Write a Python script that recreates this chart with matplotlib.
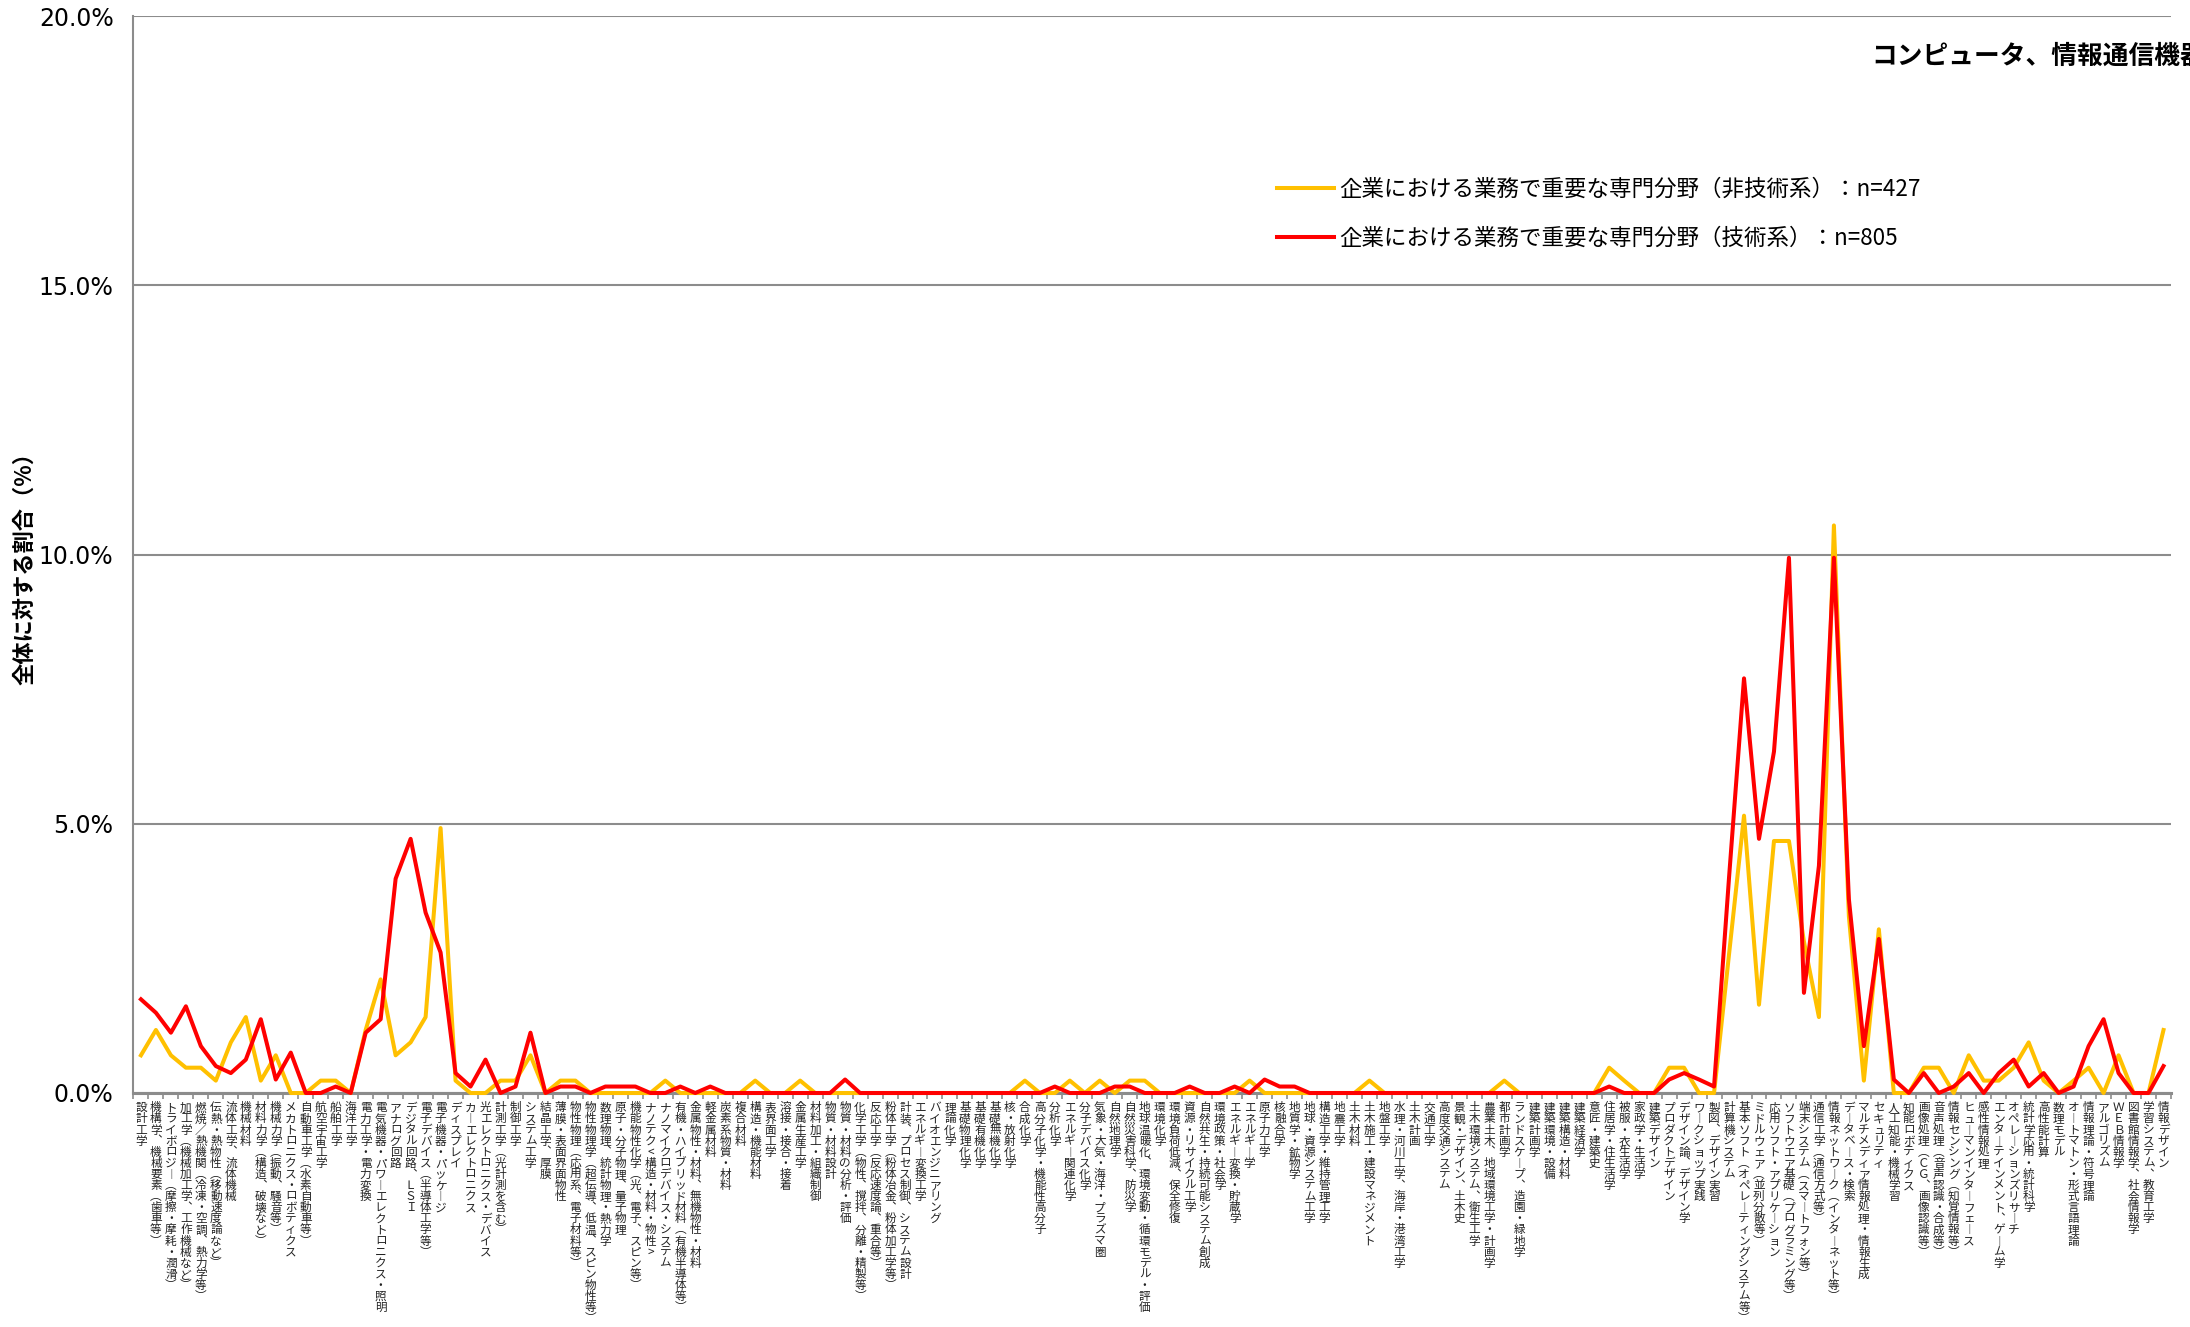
import numpy as np
import matplotlib
matplotlib.use('Agg')
import matplotlib.pyplot as plt

plt.rcParams['font.family'] = ['Noto Sans CJK JP', 'DejaVu Sans']

title = 'コンピュータ、情報通信機器'
series_names = ['企業における業務で重要な専門分野（非技術系）：n=427',
                '企業における業務で重要な専門分野（技術系）：n=805']

fields = [
    '設計工学', '機構学、機械要素（歯車等）', 'トライボロジー（摩擦・摩耗・潤滑）',
    '加工学（機械加工学、工作機械など）', '燃焼／熱機関（冷凍・空調、熱力学等）',
    '伝熱・熱物性（移動速度論など）', '流体工学、流体機械', '機械材料',
    '材料力学（構造、破壊など）', '機械力学（振動、騒音等）', 'メカトロニクス・ロボティクス',
    '自動車工学（水素自動車等）', '航空宇宙工学', '船舶工学', '海洋工学', '電力工学・電力変換',
    '電気機器・パワーエレクトロニクス・照明', 'アナログ回路', 'デジタル回路、ＬＳＩ',
    '電子デバイス（半導体工学等）', '電子機器・パッケージ', 'ディスプレイ', 'カーエレクトロニクス',
    '光エレクトロニクス・デバイス', '計測工学（光計測を含む）', '制御工学', 'システム工学',
    '結晶工学、厚膜', '薄膜・表面界面物性', '物性物理（応用系、電子材料等）',
    '物性物理学（超伝導、低温、スピン物性等）', '数理物理、統計物理・熱力学',
    '原子・分子物理、量子物理', '機能物性化学（光、電子、スピン等）', 'ナノテク<構造・材料・物性>',
    'ナノマイクロデバイス・システム', '有機・ハイブリッド材料（有機半導体等）',
    '金属物性・材料、無機物性・材料', '軽金属材料', '炭素系物質・材料', '複合材料',
    '構造・機能材料', '表界面工学', '溶接・接合・接着', '金属生産工学', '材料加工・組織制御',
    '物質・材料設計', '物質・材料の分析・評価', '化学工学（物性、撹拌、分離・精製等）',
    '反応工学（反応速度論、重合等）', '粉体工学（粉体冶金、粉体加工学等）',
    '計装、プロセス制御、システム設計', 'エネルギー変換工学', 'バイオエンジニアリング',
    '理論化学', '基礎物理化学', '基礎有機化学', '基礎無機化学', '核・放射化学', '合成化学',
    '高分子化学・機能性高分子', '分析化学', 'エネルギー関連化学', '分子デバイス化学',
    '気象・大気・海洋・プラズマ圏', '自然地理学', '自然災害科学、防災学',
    '地球温暖化、環境変動・循環モデル・評価', '環境化学', '環境負荷低減、保全修復',
    '資源・リサイクル工学', '自然共生・持続可能システム創成', '環境政策・社会学',
    'エネルギー変換・貯蔵学', 'エネルギー学', '原子力工学', '核融合学', '地質学・鉱物学',
    '地球・資源システム工学', '構造工学・維持管理工学', '地震工学', '土木材料',
    '土木施工・建設マネジメント', '地盤工学', '水理・河川工学、海岸・港湾工学', '土木計画',
    '交通工学', '高度交通システム', '景観・デザイン、土木史', '土木環境システム、衛生工学',
    '農業土木、地域環境工学・計画学', '都市計画学', 'ランドスケープ、造園・緑地学', '建築計画学',
    '建築環境・設備', '建築構造・材料', '建築経済学', '意匠・建築史', '住居学・住生活学',
    '被服・衣生活学', '家政学・生活学', '建築デザイン', 'プロダクトデザイン',
    'デザイン論、デザイン学', 'ワークショップ実践', '製図、デザイン実習', '計算機システム',
    '基本ソフト（オペレーティングシステム等）', 'ミドルウェア（並列分散等）',
    '応用ソフト・アプリケーション', 'ソフトウエア基礎（プログラミング等）',
    '端末システム（スマートフォン等）', '通信工学（通信方式等）',
    '情報ネットワーク（インターネット等）', 'データベース・検索',
    'マルチメディア情報処理・情報生成', 'セキュリティ', '人工知能・機械学習', '知能ロボティクス',
    '画像処理（ＣＧ、画像認識等）', '音声処理（音声認識・合成等）', '情報センシング（知覚情報等）',
    'ヒューマンインターフェース', '感性情報処理', 'エンターテインメント、ゲーム学',
    'オペレーションズリサーチ', '統計学応用・統計科学', '高性能計算', '数理モデル',
    'オートマトン・形式言語理論', '情報理論・符号理論', 'アルゴリズム', 'ＷＥＢ情報学',
    '図書館情報学、社会情報学', '学習システム、教育工学', '情報デザイン',
]

# 非技術系 (%)
non_tech = [
    0.70, 1.17, 0.70, 0.47, 0.47, 0.23, 0.94, 1.41, 0.23, 0.70,
    0.00, 0.00, 0.23, 0.23, 0.00, 1.17, 2.11, 0.70, 0.94, 1.41,
    4.92, 0.23, 0.00, 0.00, 0.23, 0.23, 0.70, 0.00, 0.23, 0.23,
    0.00, 0.00, 0.00, 0.00, 0.00, 0.23, 0.00, 0.00, 0.00, 0.00,
    0.00, 0.23, 0.00, 0.00, 0.23, 0.00, 0.00, 0.00, 0.00, 0.00,
    0.00, 0.00, 0.00, 0.00, 0.00, 0.00, 0.00, 0.00, 0.00, 0.23,
    0.00, 0.00, 0.23, 0.00, 0.23, 0.00, 0.23, 0.23, 0.00, 0.00,
    0.00, 0.00, 0.00, 0.00, 0.23, 0.00, 0.00, 0.00, 0.00, 0.00,
    0.00, 0.00, 0.23, 0.00, 0.00, 0.00, 0.00, 0.00, 0.00, 0.00,
    0.00, 0.23, 0.00, 0.00, 0.00, 0.00, 0.00, 0.00, 0.47, 0.23,
    0.00, 0.00, 0.47, 0.47, 0.00, 0.00, 2.58, 5.15, 1.64, 4.68,
    4.68, 2.81, 1.41, 10.54, 3.28, 0.23, 3.04, 0.00, 0.00, 0.47,
    0.47, 0.00, 0.70, 0.23, 0.23, 0.47, 0.94, 0.23, 0.00, 0.23,
    0.47, 0.00, 0.70, 0.00, 0.00, 1.17,
]

# 技術系 (%)
tech = [
    1.74, 1.49, 1.12, 1.61, 0.87, 0.50, 0.37, 0.62, 1.37, 0.25,
    0.75, 0.00, 0.00, 0.12, 0.00, 1.12, 1.37, 3.98, 4.72, 3.35,
    2.61, 0.37, 0.12, 0.62, 0.00, 0.12, 1.12, 0.00, 0.12, 0.12,
    0.00, 0.12, 0.12, 0.12, 0.00, 0.00, 0.12, 0.00, 0.12, 0.00,
    0.00, 0.00, 0.00, 0.00, 0.00, 0.00, 0.00, 0.25, 0.00, 0.00,
    0.00, 0.00, 0.00, 0.00, 0.00, 0.00, 0.00, 0.00, 0.00, 0.00,
    0.00, 0.12, 0.00, 0.00, 0.00, 0.12, 0.12, 0.00, 0.00, 0.00,
    0.12, 0.00, 0.00, 0.12, 0.00, 0.25, 0.12, 0.12, 0.00, 0.00,
    0.00, 0.00, 0.00, 0.00, 0.00, 0.00, 0.00, 0.00, 0.00, 0.00,
    0.00, 0.00, 0.00, 0.00, 0.00, 0.00, 0.00, 0.00, 0.12, 0.00,
    0.00, 0.00, 0.25, 0.37, 0.25, 0.12, 4.00, 7.70, 4.72, 6.34,
    9.94, 1.86, 4.22, 9.94, 3.60, 0.87, 2.86, 0.25, 0.00, 0.37,
    0.00, 0.12, 0.37, 0.00, 0.37, 0.62, 0.12, 0.37, 0.00, 0.12,
    0.87, 1.37, 0.37, 0.00, 0.00, 0.50,
]

# vertical writing forms for stacked labels
vert_map = {'（': '︵', '）': '︶', 'ー': '︱', '、': '︑', '＜': '︿', '＞': '﹀'}


def tategaki(s):
    return '\n'.join(vert_map.get(c, c) for c in s)


W, H = 2190, 1327
fig = plt.figure(figsize=(W / 100, H / 100), dpi=100)
ax = fig.add_axes([133 / W, 234 / H, (2171 - 133) / W, (1093 - 16) / H])

x = np.arange(len(fields))
ax.plot(x, non_tech, color='#FFC000', lw=2.9, label=series_names[0], clip_on=False, zorder=3)
ax.plot(x, tech, color='#FF0000', lw=2.9, label=series_names[1], clip_on=False, zorder=4)

ax.set_xlim(-0.53, len(fields) - 0.55)
ax.set_ylim(0, 20)
ax.set_yticks([0, 5, 10, 15, 20])
ax.set_yticklabels([f'{v:.1f}%' for v in [0, 5, 10, 15, 20]], fontsize=17,
                   fontfamily='DejaVu Sans')
ax.tick_params(axis='y', length=0, pad=14)
ax.yaxis.grid(True, color='#8c8c8c', linewidth=1.5)
ax.set_axisbelow(True)

ax.set_xticks(x)
ax.set_xticklabels([tategaki(f) for f in fields], fontsize=8.4, linespacing=0.81,
                   color='#222222')
ax.set_xticks(np.arange(-0.5, len(fields), 1), minor=True)
ax.tick_params(axis='x', which='major', length=0, pad=6)
ax.tick_params(axis='x', which='minor', length=4, width=1.2, color='#8c8c8c')

for side in ['top', 'right']:
    ax.spines[side].set_visible(False)
ax.spines['left'].set_color('#8c8c8c')
ax.spines['left'].set_linewidth(1.5)
ax.spines['bottom'].set_color('#8c8c8c')
ax.spines['bottom'].set_linewidth(2.2)

fig.text(25 / W, 1 - 563 / H, '全体に対する割合（%）', rotation=90, fontsize=16,
         fontweight='bold', ha='center', va='center')
fig.text(1871 / W, 1 - 56 / H, title, fontsize=18.5, fontweight='bold',
         ha='left', va='center')

ax.legend(loc='upper left', bbox_to_anchor=(1257 / W, 1 - 158 / H),
          bbox_transform=fig.transFigure, frameon=False, fontsize=16.2,
          handlelength=2.5, handletextpad=0.25, labelspacing=1.15)

fig.savefig('out.png', dpi=100)
